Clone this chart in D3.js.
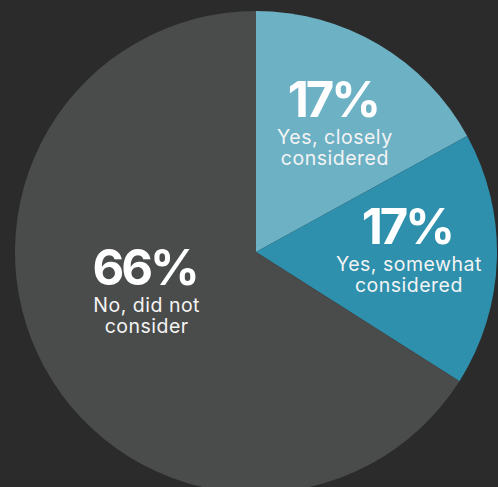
<!DOCTYPE html>
<html>
<head>
<meta charset="utf-8">
<script src="https://cdn.jsdelivr.net/npm/d3@7"></script>
<style>
  html, body { margin: 0; padding: 0; background: #2b2b2b; }
  svg { display: block; }
</style>
</head>
<body>
<svg id="chart" width="498" height="487"></svg>
<script>
// Survey answers, in clockwise order starting from 12 o'clock
const answers = ["Yes, closely considered", "Yes, somewhat considered", "No, did not consider"];
const labelLines = [["Yes, closely", "considered"], ["Yes, somewhat", "considered"], ["No, did not", "consider"]];
const shares = [17, 17, 66];
const sliceColors = ["#6db1c5", "#2e90ac", "#4a4b4b"];

const width = 498, height = 487;
const cx = 256, cy = 252, radius = 241;

const svg = d3.select("#chart");
const g = svg.append("g").attr("transform", `translate(${cx},${cy})`);

const pie = d3.pie().sort(null).value(d => d.value);
const arcs = pie(answers.map((a, i) => ({ name: a, value: shares[i], lines: labelLines[i], color: sliceColors[i] })));

const arc = d3.arc().innerRadius(0).outerRadius(radius);

g.selectAll("path.slice")
  .data(arcs)
  .join("path")
  .attr("class", "slice")
  .attr("d", arc)
  .attr("fill", d => d.data.color);

// Label anchors: centroid of an inner ring, with small per-slice nudges
const labelArc = d3.arc().innerRadius(151).outerRadius(151);
const nudges = [[2, 1], [2, -7], [0, 0]];

function anchor(d, i) {
  if (i === 2) {
    // the large slice carries its label nearer the middle of its left half
    const a = (d.startAngle + d.endAngle) / 2 + 0.165;
    const r = 118;
    return [Math.sin(a) * r + 2, -Math.cos(a) * r];
  }
  const c = labelArc.centroid(d);
  return [c[0] + nudges[i][0], c[1] + nudges[i][1]];
}

// Each label is one text block: a bold percentage over a two-line caption
const labels = g.selectAll("text.label")
  .data(arcs)
  .join("text")
  .attr("class", "label")
  .attr("text-anchor", "middle")
  .attr("font-family", "Inter, 'Noto Sans', sans-serif")
  .attr("transform", (d, i) => { const p = anchor(d, i); return `translate(${p[0]},${p[1]})`; });

labels.append("tspan")
  .attr("x", -2)
  .attr("y", -6)
  .attr("font-weight", 700)
  .attr("font-size", 49)
  .attr("letter-spacing", "-3px")
  .attr("fill", "#ffffff")
  .text(d => d.data.value + "%");

labels.each(function(d) {
  const sel = d3.select(this);
  d.data.lines.forEach((line, k) => {
    sel.append("tspan")
      .attr("x", 0)
      .attr("y", 21 + k * 21)
      .attr("font-weight", 400)
      .attr("font-size", 19.5)
      .attr("letter-spacing", "0.5px")
      .attr("fill", "#f4f4f4")
      .text(line);
  });
});
</script>
</body>
</html>
